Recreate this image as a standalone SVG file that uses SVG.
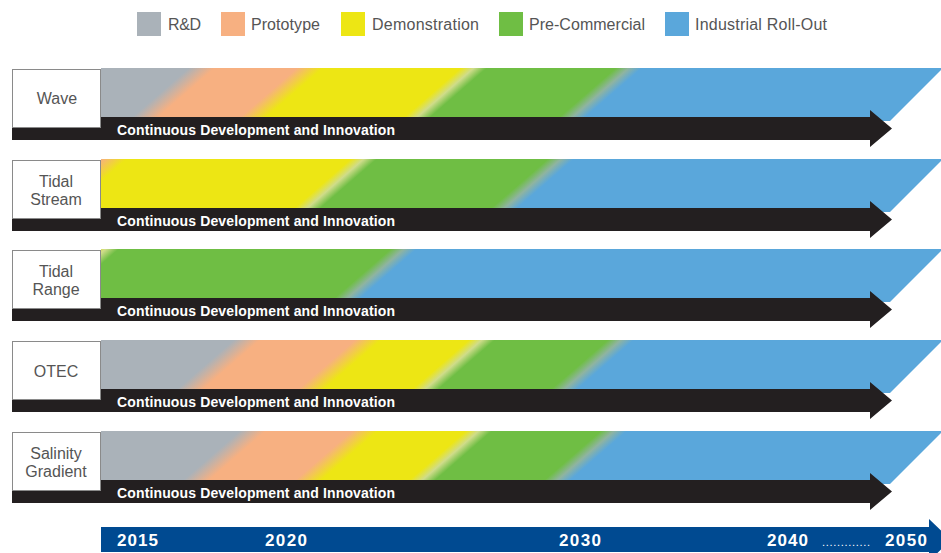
<svg xmlns="http://www.w3.org/2000/svg" width="941" height="553" viewBox="0 0 941 553">
<style>
.lg{font-family:"Liberation Sans",Arial,sans-serif;font-size:16px;fill:#555}
.lbl{font-family:"Liberation Sans",Arial,sans-serif;font-size:16px;fill:#555;text-anchor:middle}
.cdi{font-family:"Liberation Sans",Arial,sans-serif;font-size:14px;font-weight:bold;fill:#fff}
.yr{font-family:"Liberation Sans",Arial,sans-serif;font-size:17px;font-weight:bold;fill:#fff}
.box{fill:#fff;stroke:#8a8a8a;stroke-width:1}
.bar{fill:#231f20}
</style>
<defs>
<linearGradient id="gWave" gradientUnits="userSpaceOnUse" x1="0" y1="93" x2="430.6" y2="588.2">
<stop offset="0" stop-color="#aab2b9"/><stop offset="0.160" stop-color="#aab2b9"/><stop offset="0.186" stop-color="#f7b081"/>
<stop offset="0.268" stop-color="#f7b081"/><stop offset="0.294" stop-color="#ede614"/>
<stop offset="0.432" stop-color="#ede614"/><stop offset="0.445" stop-color="#cfdc8a"/><stop offset="0.458" stop-color="#6fbe44"/>
<stop offset="0.587" stop-color="#6fbe44"/><stop offset="0.600" stop-color="#8fb4a0"/><stop offset="0.613" stop-color="#5aa7db"/>
<stop offset="1" stop-color="#5aa7db"/>
</linearGradient>
<linearGradient id="gStream" gradientUnits="userSpaceOnUse" x1="0" y1="184" x2="430.6" y2="679.2">
<stop offset="0" stop-color="#f7b081"/><stop offset="0.072" stop-color="#f7b081"/><stop offset="0.098" stop-color="#ede614"/>
<stop offset="0.322" stop-color="#ede614"/><stop offset="0.335" stop-color="#cfdc8a"/><stop offset="0.348" stop-color="#6fbe44"/>
<stop offset="0.519" stop-color="#6fbe44"/><stop offset="0.532" stop-color="#8fb4a0"/><stop offset="0.545" stop-color="#5aa7db"/>
<stop offset="1" stop-color="#5aa7db"/>
</linearGradient>
<linearGradient id="gRange" gradientUnits="userSpaceOnUse" x1="0" y1="274" x2="430.6" y2="769.2">
<stop offset="0" stop-color="#ede614"/><stop offset="0.064" stop-color="#ede614"/><stop offset="0.077" stop-color="#cfdc8a"/><stop offset="0.090" stop-color="#6fbe44"/>
<stop offset="0.362" stop-color="#6fbe44"/><stop offset="0.375" stop-color="#8fb4a0"/><stop offset="0.388" stop-color="#5aa7db"/>
<stop offset="1" stop-color="#5aa7db"/>
</linearGradient>
<linearGradient id="gOtec" gradientUnits="userSpaceOnUse" x1="0" y1="365" x2="430.6" y2="860.2">
<stop offset="0" stop-color="#aab2b9"/><stop offset="0.205" stop-color="#aab2b9"/><stop offset="0.231" stop-color="#f7b081"/>
<stop offset="0.326" stop-color="#f7b081"/><stop offset="0.352" stop-color="#ede614"/>
<stop offset="0.440" stop-color="#ede614"/><stop offset="0.453" stop-color="#cfdc8a"/><stop offset="0.466" stop-color="#6fbe44"/>
<stop offset="0.579" stop-color="#6fbe44"/><stop offset="0.592" stop-color="#8fb4a0"/><stop offset="0.605" stop-color="#5aa7db"/>
<stop offset="1" stop-color="#5aa7db"/>
</linearGradient>
<linearGradient id="gSal" gradientUnits="userSpaceOnUse" x1="0" y1="456" x2="430.6" y2="951.2">
<stop offset="0" stop-color="#aab2b9"/><stop offset="0.211" stop-color="#aab2b9"/><stop offset="0.237" stop-color="#f7b081"/>
<stop offset="0.323" stop-color="#f7b081"/><stop offset="0.349" stop-color="#ede614"/>
<stop offset="0.437" stop-color="#ede614"/><stop offset="0.450" stop-color="#cfdc8a"/><stop offset="0.463" stop-color="#6fbe44"/>
<stop offset="0.572" stop-color="#6fbe44"/><stop offset="0.585" stop-color="#8fb4a0"/><stop offset="0.598" stop-color="#5aa7db"/>
<stop offset="1" stop-color="#5aa7db"/>
</linearGradient>
</defs>
<rect width="941" height="553" fill="#fff"/>

<g id="legend">
<rect x="137" y="12" width="24" height="24" fill="#aab2b9"/><text class="lg" x="168" y="30" textLength="33">R&amp;D</text>
<rect x="221" y="12" width="24" height="24" fill="#f7b081"/><text class="lg" x="251" y="30" textLength="69">Prototype</text>
<rect x="341" y="12" width="24" height="24" fill="#ede614"/><text class="lg" x="372" y="30" textLength="107">Demonstration</text>
<rect x="499" y="12" width="24" height="24" fill="#6fbe44"/><text class="lg" x="529" y="30" textLength="116">Pre-Commercial</text>
<rect x="665" y="12" width="24" height="24" fill="#5aa7db"/><text class="lg" x="695" y="30" textLength="132">Industrial Roll-Out</text>
</g>

<g id="wave">
<polygon points="101,68 943,68 890,121 101,121" fill="url(#gWave)"/>
<path class="bar" d="M12,117 H870 V110 L892,128.5 L870,147 V140 H12 Z"/>
<rect class="box" x="12.5" y="69.5" width="88" height="58"/>
<text class="lbl" x="57" y="104">Wave</text>
<text class="cdi" x="117" y="135" textLength="278">Continuous Development and Innovation</text>
</g>

<g id="tidal-stream">
<polygon points="101,159 943,159 890,212 101,212" fill="url(#gStream)"/>
<path class="bar" d="M12,208 H870 V201 L892,219.5 L870,238 V231 H12 Z"/>
<rect class="box" x="12.5" y="160.5" width="88" height="58"/>
<text class="lbl" x="56" y="187">Tidal</text>
<text class="lbl" x="56" y="205">Stream</text>
<text class="cdi" x="117" y="226" textLength="278">Continuous Development and Innovation</text>
</g>

<g id="tidal-range">
<polygon points="101,249 943,249 890,302 101,302" fill="url(#gRange)"/>
<path class="bar" d="M12,298 H870 V291 L892,309.5 L870,328 V321 H12 Z"/>
<rect class="box" x="12.5" y="250.5" width="88" height="58"/>
<text class="lbl" x="56" y="277">Tidal</text>
<text class="lbl" x="56" y="295">Range</text>
<text class="cdi" x="117" y="316" textLength="278">Continuous Development and Innovation</text>
</g>

<g id="otec">
<polygon points="101,340 943,340 890,393 101,393" fill="url(#gOtec)"/>
<path class="bar" d="M12,389 H870 V382 L892,400.5 L870,419 V412 H12 Z"/>
<rect class="box" x="12.5" y="341.5" width="88" height="58"/>
<text class="lbl" x="56" y="377">OTEC</text>
<text class="cdi" x="117" y="407" textLength="278">Continuous Development and Innovation</text>
</g>

<g id="salinity-gradient">
<polygon points="101,431 943,431 890,484 101,484" fill="url(#gSal)"/>
<path class="bar" d="M12,480 H870 V473 L892,491.5 L870,510 V503 H12 Z"/>
<rect class="box" x="12.5" y="432.5" width="88" height="58"/>
<text class="lbl" x="56" y="459">Salinity</text>
<text class="lbl" x="56" y="477">Gradient</text>
<text class="cdi" x="117" y="498" textLength="278">Continuous Development and Innovation</text>
</g>

<g id="timeline">
<path d="M101,527 H929 V519 L951,540 L929,561 V552 H101 Z" fill="#004a91"/>
<text class="yr" x="117" y="546" textLength="41">2015</text>
<text class="yr" x="265" y="546" textLength="42">2020</text>
<text class="yr" x="559" y="546" textLength="42">2030</text>
<text class="yr" x="767" y="546" textLength="41">2040</text>
<text class="yr" x="822" y="546" style="font-size:11px;font-weight:normal" textLength="48">.............</text>
<text class="yr" x="885" y="546" textLength="42">2050</text>
</g>
</svg>
